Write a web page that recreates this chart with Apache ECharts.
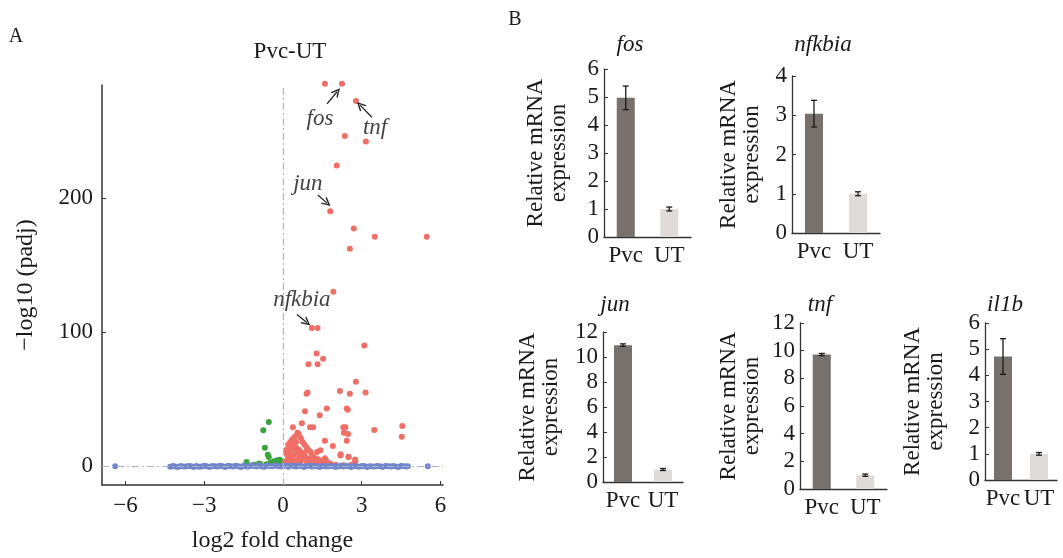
<!DOCTYPE html>
<html>
<head>
<meta charset="utf-8">
<script src="https://cdn.jsdelivr.net/npm/echarts@6/dist/echarts.min.js"></script>
<style>
  html, body { margin: 0; padding: 0; background: #fff; }
  #chart { width: 1063px; height: 558px; }
</style>
</head>
<body>
<div id="chart"></div>
<script>
// ---- data ----
// volcano plot (A): [log2 fold change, -log10 padj]
const upGenes = [
  [1.6, 285], [2.25, 285], [2.78, 272], [2.36, 246], [3.16, 242], [2.05, 224],
  [1.8, 190], [2.7, 177], [3.5, 171], [5.48, 171], [2.55, 162],
  [1.92, 130], [1.1, 103], [1.32, 103], [3.1, 90], [1.28, 84], [1.53, 80],
  [0.97, 76], [1.32, 76], [2.78, 63], [2.17, 56], [2.55, 54], [3.15, 55],
  [0.9, 54], [0.94, 55], [1.67, 43], [2.43, 43], [2.47, 42], [0.84, 41],
  [1.4, 38], [0.72, 32], [0.38, 29], [1.03, 29], [1.15, 29], [2.3, 29],
  [2.38, 29], [3.48, 27], [4.55, 30], [4.53, 22], [2.48, 24], [2.32, 25],
  [1.6, 19], [2.43, 19], [1.9, 15], [2.2, 9], [2.5, 7], [2.75, 5],
  [0.6, 24], [0.68, 21], [0.75, 18], [0.82, 16], [0.9, 14], [0.97, 12], [1.05, 10.5],
  [1.3, 10.5], [1.43, 11.8], [1.11, 8], [2.19, 8], [2.5, 6.9], [2.76, 3.7],
  [0.35, 15.4], [0.41, 17.9], [0.3, 13], [0.45, 12], [0.5, 14], [0.25, 10],
  [0.55, 10], [0.62, 12], [0.7, 9], [0.2, 7], [0.4, 8], [0.6, 6], [0.15, 4],
  [0.3, 5], [0.5, 4], [0.75, 5], [0.85, 7], [0.95, 4], [1.05, 6], [1.2, 3],
  [1.35, 5], [1.5, 2], [1.65, 4], [1.8, 2], [0.1, 1.5], [0.25, 2], [0.45, 1.5],
  [0.65, 2], [0.9, 1.5], [1.1, 1.5], [1.3, 1], [1.55, 1], [1.75, 0.8], [2.0, 1],
  [2.3, 0.8], [2.6, 1], [0.35, 20], [0.5, 18], [0.2, 16], [0.45, 22], [0.55, 25],
  [0.15, 9], [0.12, 12], [0.28, 18], [0.4, 3], [0.58, 3], [0.8, 10], [1.0, 2.5],
  [1.25, 6], [1.45, 4], [1.6, 6], [1.7, 1.5], [0.05, 3]
];
const downGenes = [
  [-0.54, 33], [-0.75, 26.7], [-0.69, 13.7], [-0.58, 8.6], [-0.54, 6.9],
  [-1.39, 3.2], [-0.91, 2], [-0.35, 3.7], [-0.22, 4.4], [-0.12, 4.9],
  [-0.48, 2.5], [-0.63, 1.5], [-0.86, 1.7], [-0.3, 2], [-0.15, 1.5], [-1.1, 1]
];
const nsGenes = [
  [-6.4, 0], [-4.3, -0.4], [-4.2, 0.2], [-4.1, -0.3], [-4.0, -0.5], [-3.9, 0.2],
  [-3.8, -0.2], [-3.7, -0.3], [-3.6, 0.1], [-3.5, 0], [-3.4, -0.6], [-3.3, 0.2],
  [-3.2, -0.4], [-3.1, -0.2], [-3.0, 0.3], [-2.9, 0], [-2.8, -0.5], [-2.7, 0.2],
  [-2.6, -0.1], [-2.5, -0.3], [-2.4, 0.3], [-2.3, 0], [-2.2, -0.6], [-2.1, 0.3],
  [-2.0, -0.1], [-1.9, -0.2], [-1.8, 0.4], [-1.7, 0], [-1.6, -0.5], [-1.5, 0.4],
  [-1.4, -0.2], [-1.3, -0.3], [-1.2, 0.6], [-1.1, 0.1], [-1.0, -0.2], [-0.9, 0.8],
  [-0.8, -0.3], [-0.7, -0.4], [-0.6, 0.5], [-0.5, 0.2], [-0.4, -0.1], [-0.3, 0.6],
  [-0.2, 0.1], [-0.1, -0.3], [0.0, 0.5], [0.1, 0.4], [0.2, -0.4], [0.3, 0.5],
  [0.4, 0.1], [0.5, -0.2], [0.6, 0.3], [0.7, 0.2], [0.8, -0.5], [0.9, 0.2],
  [1.0, 0.4], [1.1, -0.3], [1.2, 0.4], [1.3, 0], [1.4, -0.5], [1.5, 0.1],
  [1.6, 0], [1.7, -0.3], [1.8, 0.2], [1.9, 0.1], [2.0, -0.6], [2.1, 0],
  [2.2, 0.2], [2.3, -0.3], [2.4, 0.2], [2.5, -0.1], [2.6, -0.5], [2.7, 0.2],
  [2.8, 0], [2.9, -0.4], [3.0, 0.1], [3.1, 0.2], [3.2, -0.6], [3.3, 0],
  [3.4, -0.2], [3.5, -0.3], [3.6, 0.1], [3.7, 0], [3.8, -0.5], [3.9, 0.1],
  [4.0, 0], [4.1, -0.3], [4.2, 0.1], [4.3, -0.2], [4.4, -0.5], [4.5, 0.1],
  [4.6, 0], [4.7, -0.3], [4.76, 0], [5.52, 0]
];
// gene labels and arrows on the volcano plot
const noteNames = ['fos', 'tnf', 'jun', 'nfkbia'];
const notePos = [[1.41, 259], [3.51, 252], [0.95, 210], [0.72, 124]];
const arrowFrom = [[1.68, 270], [3.39, 260], [1.33, 202], [0.53, 113]];
const arrowTo = [[2.06, 279], [2.94, 269], [1.68, 196], [0.91, 107]];
const volcanoXTicks = [-6, -3, 0, 3, 6];
const volcanoYTicks = [0, 100, 200];

// qPCR panels (B)
const genes = ['fos', 'nfkbia', 'jun', 'tnf', 'il1b'];
const groups = ['Pvc', 'UT'];
const pvcMean = [4.97, 3.04, 10.95, 9.72, 4.72];
const pvcErr = [0.42, 0.34, 0.1, 0.08, 0.68];
const utMean = [1.0, 1.0, 1.0, 1.0, 1.0];
const utErr = [0.07, 0.05, 0.08, 0.08, 0.05];
const barMax = [6, 4, 12, 12, 6];
const barStep = [1, 1, 2, 2, 1];

// ---- layout ----
const SERIF = "'Liberation Serif', 'Times New Roman', serif";
const INK = '#1a1a1a';
const panels = [
  { left: 604, top: 69, width: 87, height: 168, tx: 630, ty: 45, gap: 34 },
  { left: 792, top: 76, width: 88, height: 157, tx: 823, ty: 45, gap: 29 },
  { left: 603, top: 332, width: 80, height: 150, tx: 615, ty: 305, gap: 41 },
  { left: 800, top: 323, width: 87, height: 166, tx: 820, ty: 305, gap: 37 },
  { left: 985, top: 323, width: 72, height: 157, tx: 1005, ty: 305, gap: 38 }
];
const minus = v => String(v).replace('-', '\u2212');

const grids = [{ left: 102, top: 85, width: 341, height: 405 }];
const xAxes = [{
  type: 'value', gridIndex: 0, min: -6.9, max: 6.1,
  name: 'log2 fold change', nameLocation: 'middle', nameGap: 44,
  nameTextStyle: { fontFamily: SERIF, fontSize: 24, color: INK },
  splitLine: { show: false },
  axisLine: { onZero: false, lineStyle: { color: '#333', width: 1.5 } },
  axisTick: { inside: true, length: 4, customValues: volcanoXTicks, lineStyle: { color: '#333' } },
  axisLabel: { customValues: volcanoXTicks, formatter: minus, margin: 9,
    fontFamily: SERIF, fontSize: 23, color: INK }
}];
const yAxes = [{
  type: 'value', gridIndex: 0, min: -14, max: 284,
  name: '\u2212log10 (padj)', nameLocation: 'middle', nameGap: 64, nameRotate: 90,
  nameTextStyle: { fontFamily: SERIF, fontSize: 24, color: INK },
  splitLine: { show: false },
  axisLine: { show: true, onZero: false, lineStyle: { color: '#333', width: 1.5 } },
  axisTick: { show: true, inside: true, length: 4, customValues: volcanoYTicks, lineStyle: { color: '#333' } },
  axisLabel: { customValues: volcanoYTicks, margin: 9, fontFamily: SERIF, fontSize: 23, color: INK }
}];

const series = [
  {
    type: 'scatter', xAxisIndex: 0, yAxisIndex: 0, data: upGenes, clip: false,
    symbolSize: 6, itemStyle: { color: '#ef6e66', opacity: 1 }
  },
  {
    type: 'scatter', xAxisIndex: 0, yAxisIndex: 0, data: downGenes,
    symbolSize: 6, itemStyle: { color: '#3aa43c', opacity: 1 }
  },
  {
    type: 'scatter', xAxisIndex: 0, yAxisIndex: 0, data: nsGenes,
    symbolSize: 6, itemStyle: { color: '#7186cc', opacity: 1 },
    markLine: {
      silent: true, symbol: ['none', 'none'], label: { show: false },
      data: [
        { xAxis: 0, lineStyle: { color: '#b4b4b4', type: [7, 3, 2, 3], width: 1.2 } },
        { yAxis: 0, lineStyle: { color: '#a9b2cf', type: [7, 3, 2, 3], width: 1.2 } }
      ]
    }
  },
  {
    type: 'scatter', xAxisIndex: 0, yAxisIndex: 0,
    data: noteNames.map((n, i) => ({ value: notePos[i], name: n })),
    symbolSize: 1, itemStyle: { color: 'rgba(0,0,0,0)' },
    label: {
      show: true, position: 'inside', formatter: p => p.name,
      fontFamily: SERIF, fontStyle: 'italic', fontSize: 23, color: '#111'
    },
    markLine: {
      silent: true,
      symbol: ['none', 'path://M5,0 L10,10 L8.3,10 L5,3.4 L1.7,10 L0,10 Z'],
      symbolSize: 9,
      label: { show: false },
      lineStyle: { color: '#222', width: 1.3, type: 'solid' },
      data: arrowFrom.map((f, i) => [{ coord: f }, { coord: arrowTo[i] }])
    }
  }
];

const graphics = [
  { type: 'text', x: 16, y: 37, style: { text: 'A', fontFamily: SERIF, fontSize: 20, fill: INK, align: 'center', verticalAlign: 'middle' } },
  { type: 'text', x: 515, y: 20, style: { text: 'B', fontFamily: SERIF, fontSize: 20, fill: INK, align: 'center', verticalAlign: 'middle' } },
  { type: 'text', x: 290, y: 52, style: { text: 'Pvc-UT', fontFamily: SERIF, fontSize: 23, fill: INK, align: 'center', verticalAlign: 'middle' } }
];

genes.forEach((g, i) => {
  const p = panels[i];
  const k = i + 1;
  grids.push({ left: p.left, top: p.top, width: p.width, height: p.height });
  xAxes.push({
    type: 'category', gridIndex: k, data: groups,
    axisLine: { lineStyle: { color: '#333', width: 1.3 } },
    axisTick: { inside: true, length: 4, lineStyle: { color: '#333' } },
    axisLabel: { interval: 0, margin: 7, fontFamily: SERIF, fontSize: 23, color: INK }
  });
  yAxes.push({
    type: 'value', gridIndex: k, min: 0, max: barMax[i], interval: barStep[i],
    name: 'Relative mRNA\nexpression', nameLocation: 'middle', nameRotate: 90, nameGap: p.gap,
    nameTextStyle: { fontFamily: SERIF, fontSize: 23, lineHeight: 23, color: INK },
    splitLine: { show: false },
    axisLine: { show: true, lineStyle: { color: '#333', width: 1.3 } },
    axisTick: { show: true, inside: true, length: 4, lineStyle: { color: '#333' } },
    axisLabel: { margin: 5, fontFamily: SERIF, fontSize: 23, color: INK }
  });
  graphics.push({
    type: 'text', x: p.tx, y: p.ty,
    style: { text: g, fontFamily: SERIF, fontStyle: 'italic', fontSize: 23, fill: INK, align: 'center', verticalAlign: 'middle' }
  });
  series.push({
    type: 'bar', xAxisIndex: k, yAxisIndex: k, barWidth: 18,
    data: [
      { value: pvcMean[i], itemStyle: { color: '#77706b' } },
      { value: utMean[i], itemStyle: { color: '#e0dbd6' } }
    ]
  });
  series.push({
    type: 'custom', xAxisIndex: k, yAxisIndex: k, z: 5,
    data: [
      [0, pvcMean[i] - pvcErr[i], pvcMean[i] + pvcErr[i]],
      [1, utMean[i] - utErr[i], utMean[i] + utErr[i]]
    ],
    renderItem: (params, api) => {
      const lo = api.coord([api.value(0), api.value(1)]);
      const hi = api.coord([api.value(0), api.value(2)]);
      const st = { stroke: '#1a1a1a', lineWidth: 1.3 };
      return {
        type: 'group',
        children: [
          { type: 'line', shape: { x1: lo[0], y1: lo[1], x2: hi[0], y2: hi[1] }, style: st },
          { type: 'line', shape: { x1: lo[0] - 3, y1: lo[1], x2: lo[0] + 3, y2: lo[1] }, style: st },
          { type: 'line', shape: { x1: hi[0] - 3, y1: hi[1], x2: hi[0] + 3, y2: hi[1] }, style: st }
        ]
      };
    }
  });
});

const chart = echarts.init(document.getElementById('chart'));
chart.setOption({
  animation: false,
  backgroundColor: '#fff',
  textStyle: { fontFamily: SERIF },
  grid: grids,
  xAxis: xAxes,
  yAxis: yAxes,
  graphic: graphics,
  series: series
});
</script>
</body>
</html>
